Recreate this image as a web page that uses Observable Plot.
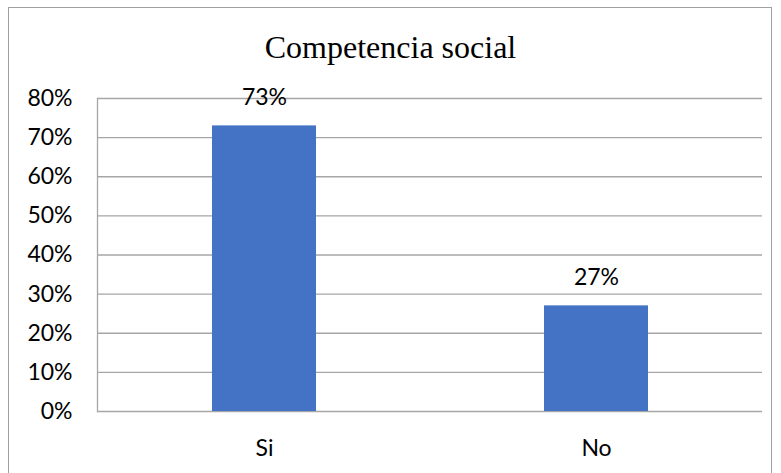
<!DOCTYPE html>
<html>
<head>
<meta charset="utf-8">
<script src="https://cdn.jsdelivr.net/npm/d3@7"></script>
<script src="https://cdn.jsdelivr.net/npm/@observablehq/plot@0.6"></script>
<style>
  html, body { margin: 0; padding: 0; background: #fff; width: 781px; height: 473px; overflow: hidden; }
  #frame { position: absolute; left: 8px; top: 7px; width: 764px; height: 480px; border: 1.5px solid #a0a0a0; box-sizing: border-box; }
  #title { position: absolute; left: 0; top: 31px; width: 781px; text-align: center; font-family: "Liberation Serif", "Times New Roman", serif; font-size: 32px; line-height: 32px; color: #000; }
  #chart { position: absolute; left: 0; top: 0; }
</style>
</head>
<body>
<div id="frame"></div>
<div id="title">Competencia social</div>
<div id="chart"></div>
<script>
const categories = ["Si", "No"];
const values = [0.73, 0.27];
const yTicks = [0, 0.1, 0.2, 0.3, 0.4, 0.5, 0.6, 0.7, 0.8];

const data = categories.map((c, i) => ({category: c, value: values[i]}));
const fmt = d3.format(".0%");

const chart = Plot.plot({
  width: 781,
  height: 473,
  marginLeft: 97,
  marginRight: 19,
  marginTop: 98,
  marginBottom: 62,
  style: {fontFamily: "Lato, 'Open Sans', sans-serif", fontSize: "23px", color: "#000", background: "transparent"},
  x: {domain: categories, paddingInner: 0.687, paddingOuter: 0.3435, label: null},
  y: {domain: [0, 0.8], label: null},
  marks: [
    Plot.gridY(yTicks, {stroke: "#a6a6a6", strokeOpacity: 1, strokeWidth: 1.3}),
    Plot.barY(data, {x: "category", y: "value", fill: "#4472C4"}),
    Plot.text(data, {x: "category", y: "value", text: d => fmt(d.value), dy: -28, lineAnchor: "middle", fill: "#000", fontSize: 23}),
    Plot.axisY(yTicks, {tickFormat: fmt, tickSize: 0, tickPadding: 25, fontSize: 23, label: null}),
    Plot.axisX({tickSize: 0, tickPadding: 28, fontSize: 23, label: null}),
    Plot.frame({anchor: "left", stroke: "#a6a6a6", strokeWidth: 1.3})
  ]
});
document.getElementById("chart").appendChild(chart);
</script>
</body>
</html>
